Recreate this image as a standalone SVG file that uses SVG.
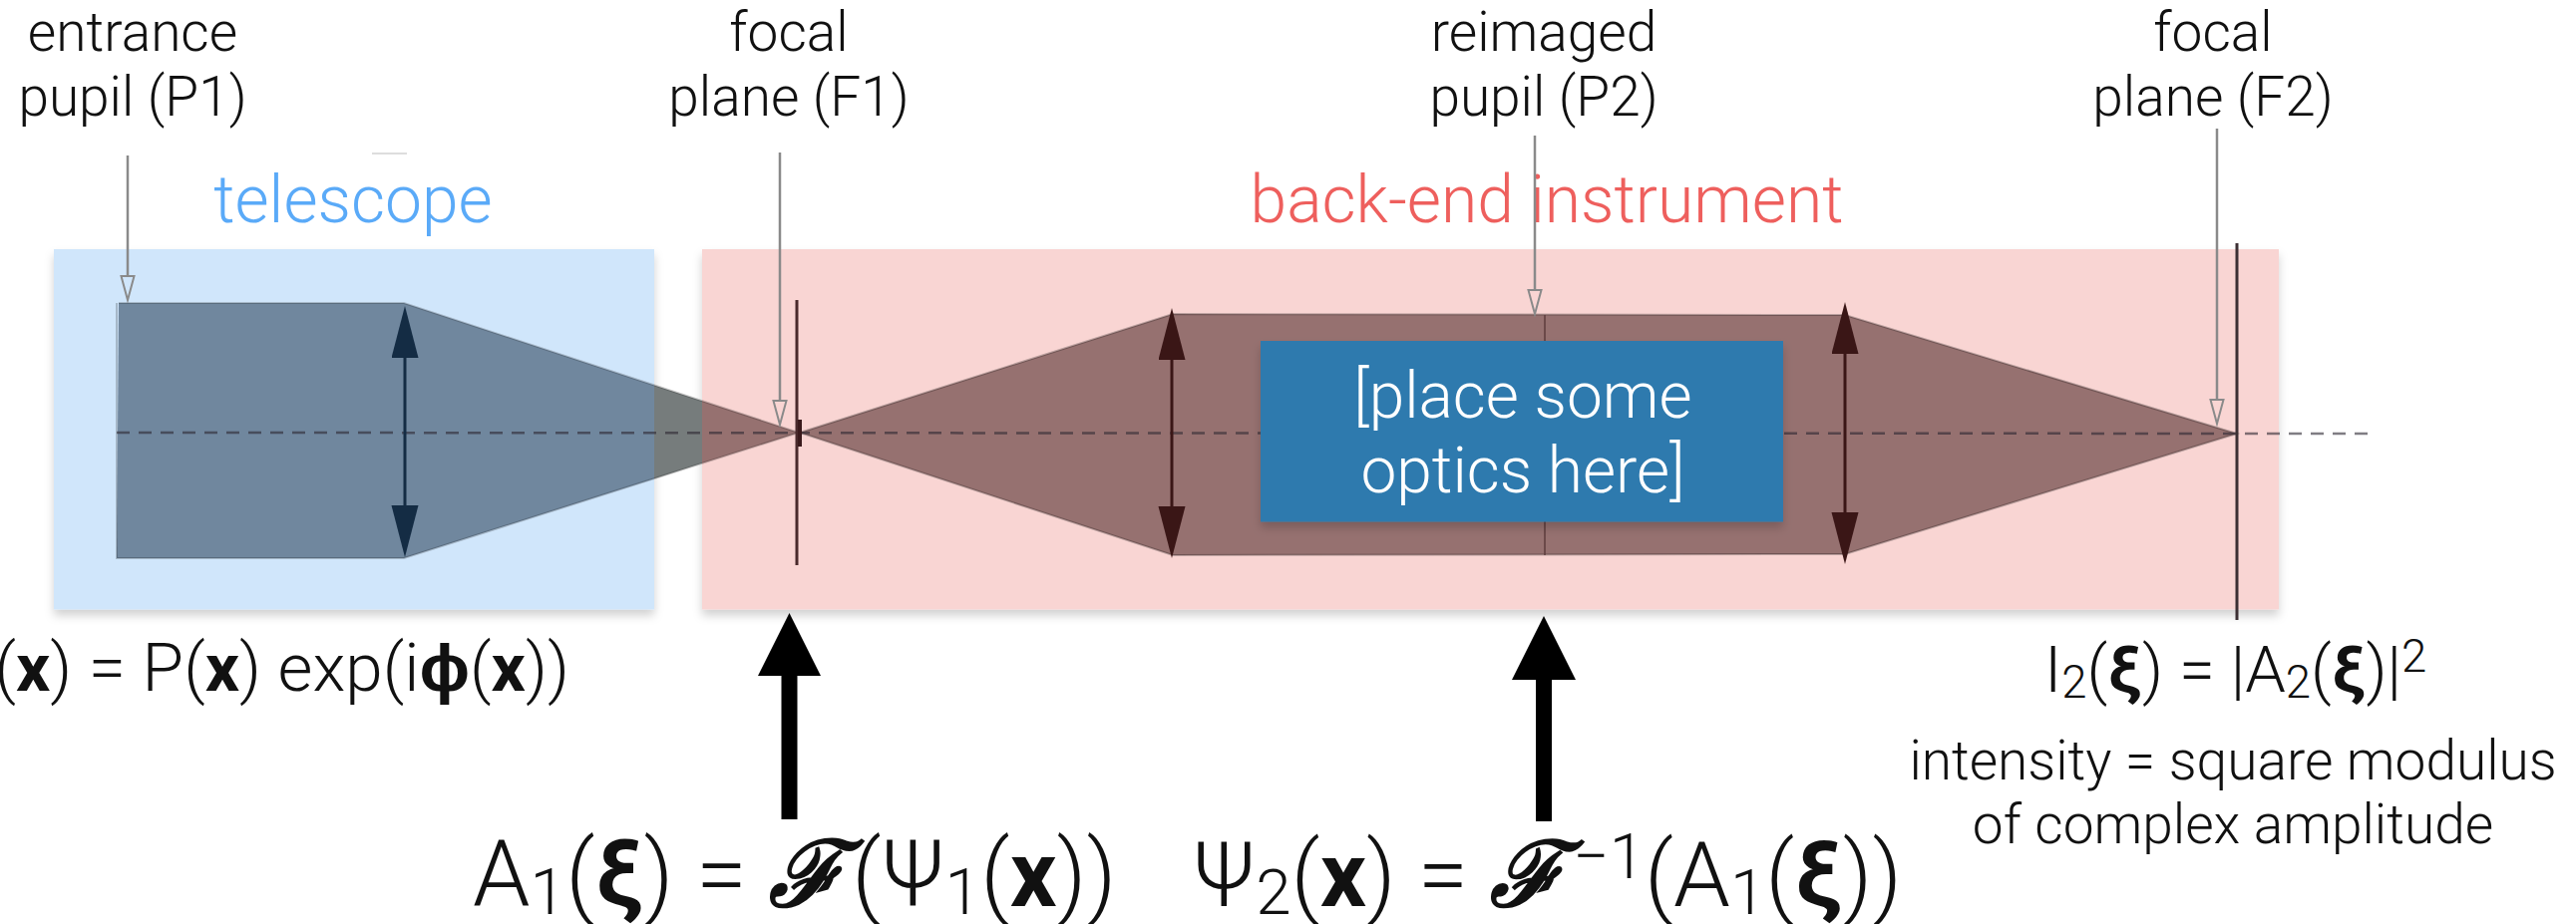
<svg xmlns="http://www.w3.org/2000/svg" width="2583" height="927" viewBox="0 0 2583 927">
<style>
text{font-family:"Roboto","Liberation Sans",sans-serif;font-weight:300;fill:#111;text-anchor:middle}
.l{font-size:55px}
.eq{font-size:67.500px;text-anchor:end}
.eq2{font-size:65px;text-anchor:start}
.big{font-size:92px;text-anchor:start}
.b{font-weight:700}
.scr{font-family:"DejaVu Serif",serif;font-style:italic;font-weight:700}
.sub{font-size:70%}
.ptr{stroke:#8a8a8a;stroke-width:2.5;fill:none}
.plane{stroke-width:3;fill:none}
.beam{stroke:#000;stroke-opacity:.25;stroke-width:2}
</style>
<defs>
<filter id="sh" x="-5%" y="-5%" width="110%" height="115%"><feDropShadow dx="0" dy="6" stdDeviation="5" flood-color="#000" flood-opacity=".18"/></filter>
<marker id="openp" markerUnits="userSpaceOnUse" markerWidth="28" markerHeight="16" refX="1" refY="8" orient="auto"><path d="M1 1.500L25 8 1 14.500Z" fill="none" stroke="#8a8a8a" stroke-width="2"/></marker>
<marker id="hb" markerUnits="userSpaceOnUse" markerWidth="54" markerHeight="28" refX="1" refY="13.500" orient="auto-start-reverse"><path d="M0 0L52 13.500 0 27Z" fill="#142c44"/></marker>
<marker id="hr" markerUnits="userSpaceOnUse" markerWidth="54" markerHeight="28" refX="1" refY="13.500" orient="auto-start-reverse"><path d="M0 0L52 13.500 0 27Z" fill="#3a1616"/></marker>
<clipPath id="cb"><rect x="54" y="250" width="602" height="362"/></clipPath>
<clipPath id="cg"><rect x="656" y="250" width="48" height="362"/></clipPath>
<clipPath id="cp"><rect x="704" y="250" width="1581" height="362"/></clipPath>
<polygon id="tb" points="119,304 405,304 801,434 405,560 117,560"/>
</defs>

<g id="telescope-box">
<rect x="54" y="250" width="602" height="361.500" fill="#d0e6fb" filter="url(#sh)"/>
<text x="354" y="223" style="font-size:66px;fill:#5aaaf8">telescope</text>
</g>
<g id="backend-box">
<rect x="704" y="250" width="1581" height="361.500" fill="#f9d5d3" filter="url(#sh)"/>
<text x="1551" y="223" style="font-size:66px;fill:#ee5f5d">back-end instrument</text>
</g>

<g id="beam-telescope">
<use href="#tb" clip-path="url(#cb)" fill="#70879e"/>
<use href="#tb" clip-path="url(#cg)" fill="#767c7c"/>
<use href="#tb" clip-path="url(#cp)" fill="#967170"/>
<path d="M119 304H405L801 434 405 560H117V304" fill="none" stroke="#000" stroke-opacity=".2" stroke-width="2"/>
</g>
<g id="beam-backend">
<polygon points="802,434 1176,315 1850,316 2243,435 1850,556 1176,557" fill="#967170" class="beam"/>
<line x1="1549" y1="316" x2="1549" y2="557" stroke="#5c3c3c" stroke-width="1.500"/>
</g>
<g id="axis"><line x1="117" y1="434" x2="2379" y2="435" stroke="#2c2630" stroke-opacity=".6" stroke-width="2.500" stroke-dasharray="13 9"/></g>

<g id="lens-l1"><line x1="406" y1="358" x2="406" y2="508" stroke="#142c44" stroke-width="3" marker-start="url(#hb)" marker-end="url(#hb)"/></g>
<g id="lens-l2"><line x1="1175" y1="360" x2="1175" y2="509" stroke="#3a1616" stroke-width="3" marker-start="url(#hr)" marker-end="url(#hr)"/></g>
<g id="lens-l3"><line x1="1850" y1="354" x2="1850" y2="515" stroke="#3a1616" stroke-width="3" marker-start="url(#hr)" marker-end="url(#hr)"/></g>

<g id="plane-f1"><line x1="799" y1="301" x2="799" y2="567" stroke="#4a2a2c" class="plane"/><line x1="802" y1="421" x2="802" y2="448" stroke="#3a1a1c" stroke-width="4"/></g>
<g id="plane-f2"><line x1="2243" y1="244" x2="2243" y2="622" stroke="#3c3034" class="plane"/></g>

<g id="optics-box">
<rect x="1264" y="342" width="524" height="181.500" fill="#2f7aae" filter="url(#sh)"/>
<text x="1527" y="419" style="font-size:64px;fill:#fff">[place some</text>
<text x="1527" y="494" style="font-size:64px;fill:#fff">optics here]</text>
</g>

<g id="label-p1"><text class="l" x="133" y="51">entrance</text><text class="l" x="133" y="116">pupil (P1)</text></g>
<g id="label-f1"><text class="l" x="791" y="51">focal</text><text class="l" x="791" y="116">plane (F1)</text></g>
<g id="label-p2"><text class="l" x="1548" y="51">reimaged</text><text class="l" x="1548" y="116">pupil (P2)</text></g>
<g id="label-f2"><text class="l" x="2219" y="51">focal</text><text class="l" x="2219" y="116">plane (F2)</text></g>
<rect x="373" y="153" width="35" height="2" fill="#ddd"/>

<g id="connectors">
<line class="ptr" x1="128" y1="156" x2="128" y2="277" marker-end="url(#openp)"/>
<line class="ptr" x1="782" y1="153" x2="782" y2="402" marker-end="url(#openp)"/>
<line class="ptr" x1="1539" y1="136" x2="1539" y2="291" marker-end="url(#openp)"/>
<line class="ptr" x1="2223" y1="129" x2="2223" y2="401" marker-end="url(#openp)"/>
<line x1="791.500" y1="822" x2="791.500" y2="676" stroke="#000" stroke-width="16"/>
<polygon points="791.500,615 823,678 760,678" fill="#000"/>
<line x1="1548" y1="824" x2="1548" y2="680" stroke="#000" stroke-width="16"/>
<polygon points="1548,618 1580,682 1516,682" fill="#000"/>
</g>

<g id="eq-pupil"><text class="eq" x="571" y="693">(<tspan class="b">x</tspan>) = P(<tspan class="b">x</tspan>) exp(i<tspan class="b">ϕ</tspan>(<tspan class="b">x</tspan>))</text></g>
<g id="eq-intensity"><text class="eq2" x="2050" y="694">I<tspan class="sub" dy="6">2</tspan><tspan dy="-6">(</tspan><tspan class="b">ξ</tspan>) = |A<tspan class="sub" dy="6">2</tspan><tspan dy="-6">(</tspan><tspan class="b">ξ</tspan>)|<tspan class="sub" dy="-20">2</tspan></text></g>
<g id="label-intensity"><text class="l" x="2239" y="782">intensity = square modulus</text><text class="l" x="2239" y="846">of complex amplitude</text></g>
<g id="eq-a1"><text class="big" x="474" y="909">A<tspan class="sub" dy="8">1</tspan><tspan dy="-8">(</tspan><tspan class="b">ξ</tspan>) = <tspan class="scr">ℱ</tspan><tspan dx="7">(</tspan>Ψ<tspan class="sub" dy="8">1</tspan><tspan dy="-8">(</tspan><tspan class="b">x</tspan>))</text></g>
<g id="eq-psi2"><text class="big" x="1196" y="909" style="font-size:91px">Ψ<tspan class="sub" dy="8">2</tspan><tspan dy="-8">(</tspan><tspan class="b">x</tspan>) = <tspan class="scr">ℱ</tspan><tspan class="sub" dx="8" dy="-28">−1</tspan><tspan dy="28">(</tspan>A<tspan class="sub" dy="8">1</tspan><tspan dy="-8">(</tspan><tspan class="b">ξ</tspan>))</text></g>
</svg>
